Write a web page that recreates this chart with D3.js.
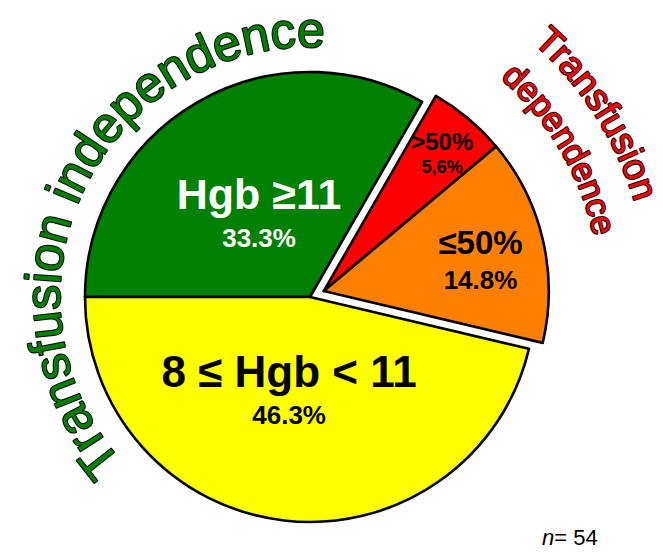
<!DOCTYPE html>
<html><head><meta charset="utf-8">
<script src="https://cdn.jsdelivr.net/npm/d3@7"></script>
<style>body{margin:0;background:#fff} svg{display:block}</style>
</head><body>
<svg id="c" width="663" height="552"></svg>
<script>
// ---- data ----
const categories = ["Hgb \u226511", ">50%", "\u226450%", "8 \u2264 Hgb < 11"];
const values = [33.3, 5.6, 14.8, 46.3];
const valueLabels = ["33.3%", "5,6%", "14.8%", "46.3%"];
const exploded = [false, true, true, false];
const groupTitles = ["Transfusion independence", "Transfusion", "dependence"];
const sampleSize = 54;

// ---- style / layout ----
const colors = ["#008000", "#ff0000", "#ff8000", "#ffff00"];
const textColors = ["#ffffff", "#000000", "#000000", "#000000"];
const mainSizes = [43, 24, 33, 44];
const valueSizes = [26, 18, 26, 26];
const valueGaps = [38, 23, 35, 37];
const labelRadius = [0.452, 0.82, 0.716, 0.41];
const labelAngleOverride = [null, null, null, 193.1];
const FONT = "'Liberation Sans', Arial, Helvetica, sans-serif";

const W = 663, H = 552;
const cx = 310, cy = 297, R = 225, explodeDist = 15;
const svg = d3.select("#c");
const rad = d => d * Math.PI / 180;

const arcs = d3.pie().sort(null).startAngle(-Math.PI / 2).endAngle(3 * Math.PI / 2)(values);
const arcGen = d3.arc().innerRadius(0).outerRadius(R);

// explode group
const ex = arcs.filter((a, i) => exploded[i]);
const gMid = (d3.min(ex, a => a.startAngle) + d3.max(ex, a => a.endAngle)) / 2;
const exOff = [Math.sin(gMid) * explodeDist, -Math.cos(gMid) * explodeDist];

const g = svg.append("g").attr("transform", `translate(${cx},${cy})`);

const slices = g.selectAll("g.slice").data(arcs).join("g")
  .attr("class", "slice")
  .attr("transform", (d, i) => exploded[i] ? `translate(${exOff[0]},${exOff[1]})` : null);

slices.append("path")
  .attr("d", arcGen)
  .attr("fill", (d, i) => colors[i])
  .attr("stroke", "#000")
  .attr("stroke-width", 2.6)
  .attr("stroke-linejoin", "round");

slices.each(function (d, i) {
  const a = labelAngleOverride[i] != null ? rad(labelAngleOverride[i]) : (d.startAngle + d.endAngle) / 2;
  const rr = labelRadius[i] * R;
  const x = Math.sin(a) * rr, y = -Math.cos(a) * rr;
  const s = d3.select(this);
  s.append("text")
    .attr("x", x).attr("y", y)
    .attr("text-anchor", "middle")
    .attr("font-family", FONT).attr("font-weight", "bold")
    .attr("font-size", mainSizes[i])
    .attr("fill", textColors[i])
    .text(categories[i]);
  s.append("text")
    .attr("x", x).attr("y", y + valueGaps[i])
    .attr("text-anchor", "middle")
    .attr("font-family", FONT).attr("font-weight", "bold")
    .attr("font-size", valueSizes[i])
    .attr("fill", textColors[i])
    .text(valueLabels[i]);
});

// ---- curved titles ----
const defs = svg.append("defs");
function arcPath(id, r, midDeg, halfSpan) {
  const p = d3.path();
  p.arc(cx, cy, r, rad(midDeg - halfSpan - 90), rad(midDeg + halfSpan - 90), false);
  defs.append("path").attr("id", id).attr("d", p.toString());
}
const curved = [
  { text: groupTitles[0], r: 250, mid: 296, size: 50, fill: "#008000" },
  { text: groupTitles[1], r: 338, mid: 57.5, size: 37, fill: "#ff0000" },
  { text: groupTitles[2], r: 290, mid: 59.5, size: 34, fill: "#ff0000" }
];
curved.forEach((c, i) => {
  arcPath("cp" + i, c.r, c.mid, 100);
  svg.append("text")
    .attr("font-family", FONT)
    .attr("font-size", c.size)
    .attr("fill", c.fill)
    .attr("stroke", "#000")
    .attr("stroke-width", 2)
    .attr("paint-order", "stroke")
    .attr("stroke-linejoin", "round")
    .append("textPath")
    .attr("href", "#cp" + i)
    .attr("startOffset", "50%")
    .attr("text-anchor", "middle")
    .text(c.text);
});

// ---- n label ----
const nt = svg.append("text")
  .attr("x", 542).attr("y", 545)
  .attr("font-family", FONT).attr("font-size", 22).attr("fill", "#000");
nt.append("tspan").attr("font-style", "italic").text("n");
nt.append("tspan").text("= " + sampleSize);
</script>
</body></html>
